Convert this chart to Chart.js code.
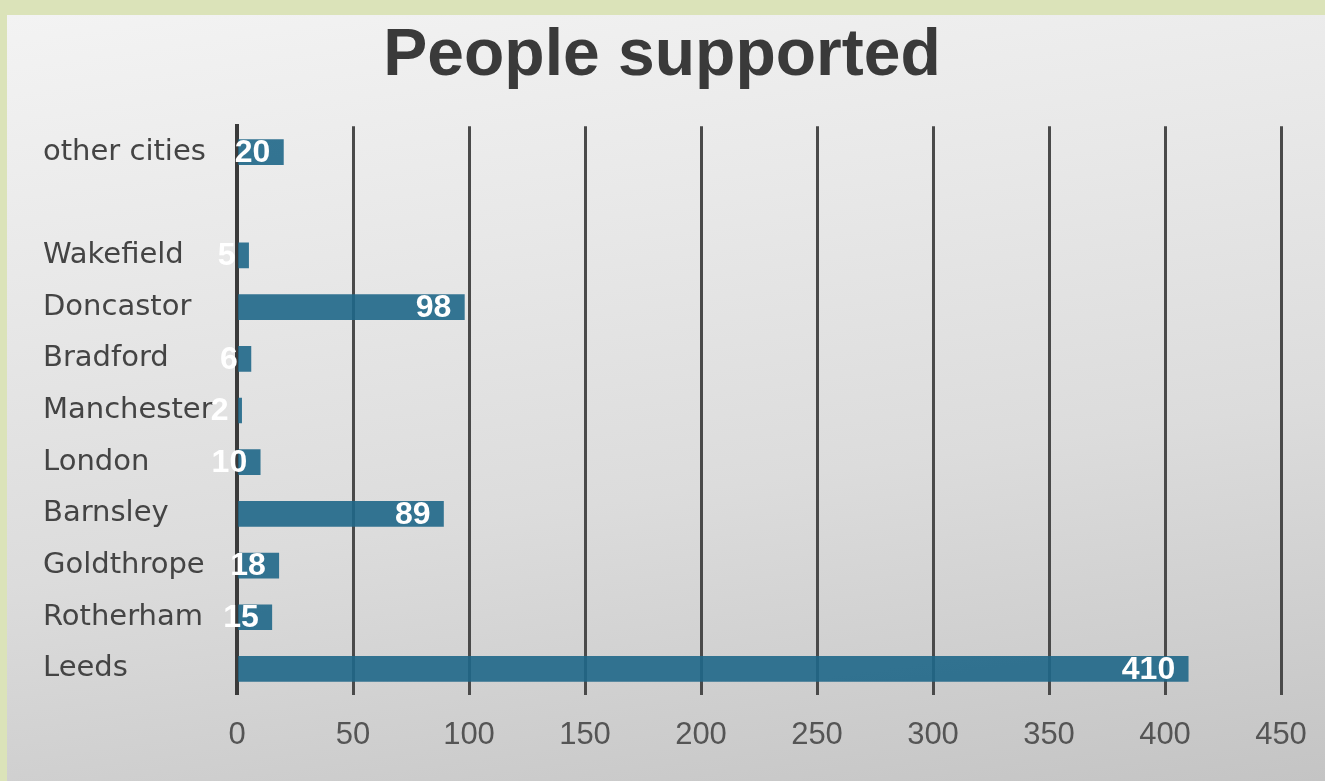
<!DOCTYPE html>
<html>
<head>
<meta charset="utf-8">
<script src="https://cdn.jsdelivr.net/npm/chart.js@4.4.1/dist/chart.umd.min.js"></script>
<style>
  html, body { margin: 0; padding: 0; width: 1325px; height: 781px; overflow: hidden; background: #dbe3b9; }
  #panel {
    position: absolute; left: 7px; top: 15px; right: 0; bottom: 0;
    background: linear-gradient(172deg, #f3f3f3 0%, #e8e8e8 30%, #dcdcdc 60%, #c4c4c4 100%);
  }
  #wrap { position: absolute; left: 0; top: 0; width: 1325px; height: 781px; }
</style>
</head>
<body>
<div id="panel"></div>
<div id="wrap"><canvas id="myChart"></canvas></div>
<script>
const cities = ["other cities", "", "Wakefield", "Doncastor", "Bradford", "Manchester", "London", "Barnsley", "Goldthrope", "Rotherham", "Leeds"];
const people = [20, null, 5, 98, 6, 2, 10, 89, 18, 15, 410];
const xTicks = [0, 50, 100, 150, 200, 250, 300, 350, 400, 450];

// white value labels at the end of each bar
const barLabels = {
  id: "barLabels",
  afterDatasetsDraw(chart) {
    const ctx = chart.ctx;
    const meta = chart.getDatasetMeta(0);
    ctx.save();
    ctx.font = "bold 32px 'Liberation Sans', Arial, sans-serif";
    ctx.fillStyle = "#ffffff";
    ctx.textAlign = "right";
    ctx.textBaseline = "middle";
    meta.data.forEach(function (bar, i) {
      if (people[i] === null) return;
      ctx.fillText(String(people[i]), bar.x - 13, bar.y + 1);
    });
    ctx.restore();
  }
};

new Chart(document.getElementById("myChart"), {
  type: "bar",
  data: {
    labels: cities,
    datasets: [
      {
        data: people,
        backgroundColor: "rgba(31,103,136,0.9)",
        barThickness: 25,
      },
    ],
  },
  options: {
    indexAxis: "y",
    responsive: true,
    maintainAspectRatio: false,
    animation: false,
    layout: { padding: { left: 43, right: 44, top: 17, bottom: 27 } },
    plugins: {
      legend: { display: false },
      tooltip: { enabled: false },
      title: {
        display: true,
        text: "People supported",
        color: "#3a3a3a",
        font: { family: "'Liberation Sans', Arial, sans-serif", size: 66, weight: "bold" },
        padding: { top: 0, bottom: 30 },
      },
    },
    scales: {
      x: {
        min: 0,
        max: 450,
        afterBuildTicks(scale) {
          scale.ticks = xTicks.map(function (v) { return { value: v }; });
        },
        grid: { color: "#4a4a4a", lineWidth: 3, drawTicks: true, tickLength: 22, tickColor: "rgba(0,0,0,0)" },
        border: { display: false },
        ticks: {
          padding: 0,
          color: "#555555",
          font: { family: "'Liberation Sans', Arial, sans-serif", size: 31 },
        },
      },
      y: {
        afterFit(scale) { scale.width = 194; },
        grid: { display: false, drawTicks: false },
        border: { display: true, color: "#3a3a3a", width: 4 },
        ticks: {
          crossAlign: "far",
          color: "#444444",
          font: { family: "'DejaVu Sans', sans-serif", size: 29 },
        },
      },
    },
  },
  plugins: [barLabels],
});
</script>
</body>
</html>
